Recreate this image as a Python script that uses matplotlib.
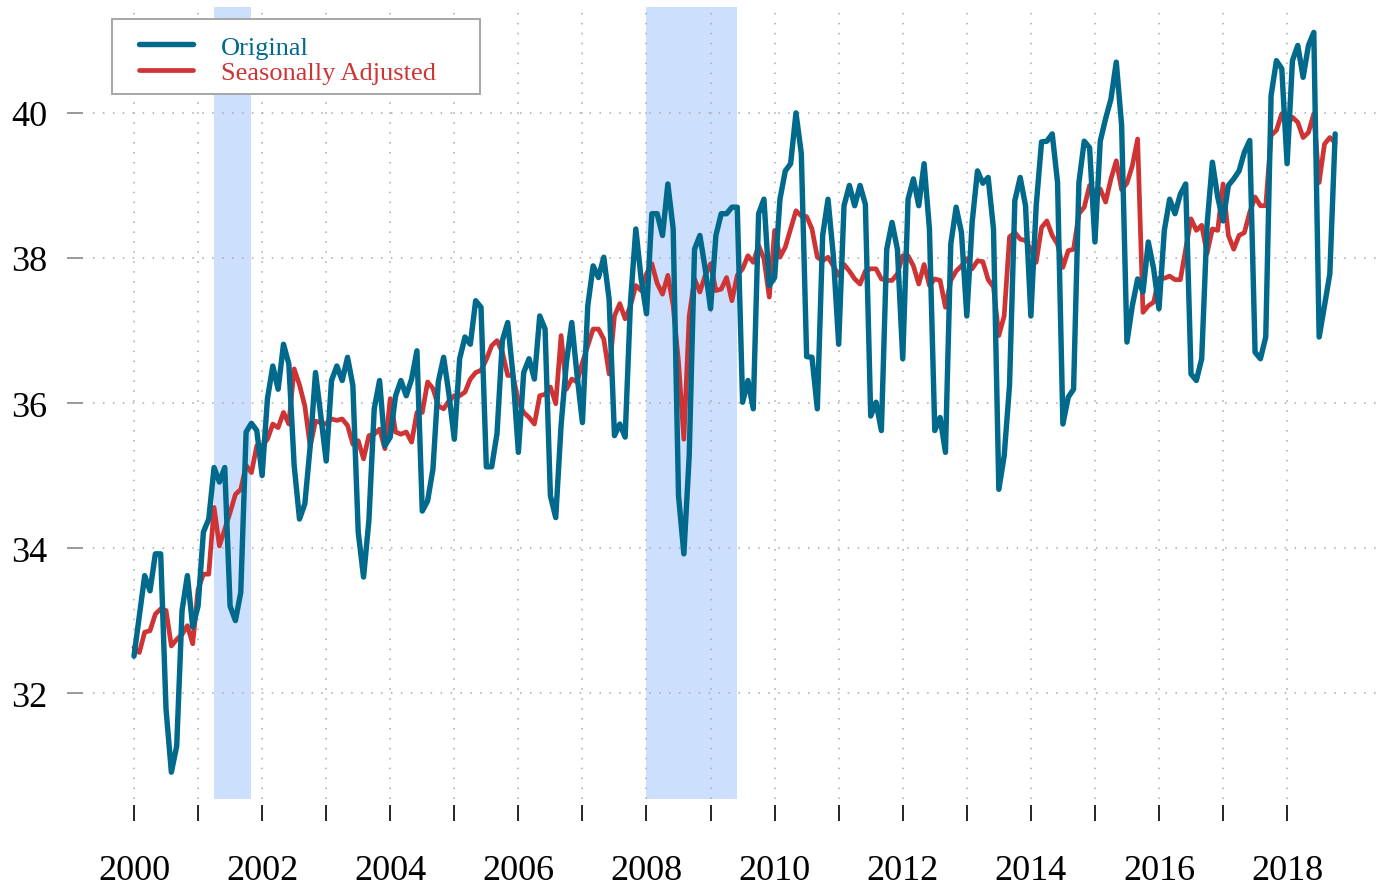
import numpy as np
import matplotlib
matplotlib.use("Agg")
import matplotlib.pyplot as plt
from matplotlib.patches import Rectangle

plt.rcParams['font.family'] = ['Liberation Serif', 'DejaVu Serif']

# monthly series, Jan 2000 onwards
original = [
    32.51, 33.07, 33.62, 33.41, 33.92, 33.92, 31.78, 30.91, 31.27, 33.14, 33.62, 32.91,
    33.20, 34.22, 34.40, 35.11, 34.91, 35.11, 33.20, 33.00, 33.39, 35.60, 35.72, 35.62,
    35.00, 36.06, 36.51, 36.19, 36.81, 36.54, 35.14, 34.40, 34.61, 35.40, 36.42, 35.82,
    35.20, 36.31, 36.51, 36.31, 36.63, 36.24, 34.22, 33.60, 34.38, 35.92, 36.31, 35.41,
    35.53, 36.10, 36.31, 36.10, 36.33, 36.72, 34.51, 34.65, 35.09, 36.29, 36.63, 36.12,
    35.50, 36.61, 36.91, 36.81, 37.41, 37.32, 35.12, 35.12, 35.58, 36.86, 37.11, 36.38,
    35.32, 36.42, 36.61, 36.33, 37.20, 37.02, 34.72, 34.42, 35.69, 36.56, 37.11, 36.38,
    35.73, 37.34, 37.89, 37.73, 38.01, 37.43, 35.55, 35.71, 35.53, 37.39, 38.40, 37.71,
    37.23, 38.61, 38.61, 38.31, 39.02, 38.40, 34.72, 33.92, 35.27, 38.12, 38.31, 37.85,
    37.30, 38.31, 38.61, 38.61, 38.70, 38.70, 36.01, 36.31, 35.92, 38.61, 38.81, 37.62,
    37.73, 38.81, 39.20, 39.30, 40.00, 39.44, 36.64, 36.63, 35.92, 38.31, 38.81, 38.03,
    36.81, 38.72, 39.00, 38.72, 39.00, 38.74, 35.82, 36.01, 35.62, 38.12, 38.49, 38.12,
    36.61, 38.81, 39.09, 38.72, 39.30, 38.40, 35.62, 35.80, 35.32, 38.19, 38.70, 38.35,
    37.20, 38.49, 39.20, 39.03, 39.11, 38.40, 34.81, 35.27, 36.24, 38.79, 39.11, 38.72,
    37.20, 38.72, 39.60, 39.61, 39.71, 39.04, 35.71, 36.08, 36.19, 39.04, 39.61, 39.52,
    38.22, 39.61, 39.92, 40.19, 40.70, 39.83, 36.84, 37.34, 37.71, 37.53, 38.22, 37.85,
    37.30, 38.38, 38.81, 38.61, 38.88, 39.02, 36.40, 36.31, 36.61, 38.45, 39.32, 38.84,
    38.51, 39.00, 39.09, 39.20, 39.46, 39.62, 36.70, 36.61, 36.91, 40.24, 40.72, 40.61,
    39.30, 40.72, 40.93, 40.49, 40.93, 41.11, 36.91, 37.34, 37.78, 39.71,
]
adjusted = [
    32.63, 32.56, 32.84, 32.86, 33.09, 33.16, 33.14, 32.65, 32.74, 32.81, 32.93, 32.68,
    33.43, 33.64, 33.64, 34.56, 34.03, 34.26, 34.49, 34.74, 34.81, 35.14, 35.04, 35.41,
    35.41, 35.50, 35.71, 35.66, 35.87, 35.71, 36.47, 36.25, 35.96, 35.40, 35.75, 35.73,
    35.71, 35.78, 35.76, 35.78, 35.69, 35.43, 35.48, 35.23, 35.55, 35.57, 35.64, 35.37,
    36.06, 35.60, 35.57, 35.60, 35.46, 35.87, 35.87, 36.29, 36.20, 35.96, 35.92, 36.03,
    36.10, 36.10, 36.15, 36.33, 36.42, 36.45, 36.60, 36.79, 36.86, 36.70, 36.38, 36.38,
    36.01, 35.87, 35.80, 35.71, 36.10, 36.12, 36.22, 35.99, 36.93, 36.19, 36.33, 36.29,
    36.56, 36.79, 37.02, 37.02, 36.88, 36.40, 37.20, 37.37, 37.16, 37.34, 37.62, 37.55,
    37.78, 37.92, 37.65, 37.50, 37.76, 37.34, 36.56, 35.50, 37.20, 37.71, 37.53, 37.76,
    37.92, 37.55, 37.57, 37.73, 37.41, 37.76, 37.85, 38.03, 37.94, 38.17, 37.99, 37.46,
    38.38, 38.01, 38.15, 38.40, 38.65, 38.58, 38.57, 38.40, 38.01, 37.96, 38.01, 37.89,
    37.76, 37.91, 37.82, 37.71, 37.64, 37.82, 37.85, 37.85, 37.71, 37.69, 37.69, 37.78,
    38.03, 38.03, 37.89, 37.64, 37.91, 37.62, 37.71, 37.69, 37.32, 37.69, 37.82, 37.89,
    37.99, 37.85, 37.96, 37.95, 37.70, 37.60, 36.93, 37.20, 38.29, 38.35, 38.26, 38.24,
    38.12, 37.94, 38.42, 38.51, 38.31, 38.19, 37.87, 38.10, 38.12, 38.61, 38.70, 39.00,
    38.90, 38.95, 38.77, 39.09, 39.34, 38.94, 39.03, 39.27, 39.64, 37.25, 37.34, 37.39,
    37.72, 37.72, 37.75, 37.70, 37.70, 38.12, 38.54, 38.38, 38.45, 38.06, 38.40, 38.38,
    39.02, 38.31, 38.12, 38.31, 38.35, 38.63, 38.84, 38.72, 38.72, 39.69, 39.76, 39.99,
    39.83, 39.94, 39.87, 39.66, 39.73, 39.99, 39.04, 39.57, 39.66, 39.59,
]
start_year = 2000

# recession periods (decimal years)
recessions = [(2001.25, 2001.83), (2008.0, 2009.42)]

x_ticks = list(range(2000, 2019))
x_labels = [str(y) if y % 2 == 0 else '' for y in x_ticks]
y_ticks = [32, 34, 36, 38, 40]

BLUE = '#00698c'
RED = '#cf3434'
SHADE = '#cce0fe'

t = start_year + np.arange(len(original)) / 12.0

fig = plt.figure(figsize=(13.84, 8.87), dpi=100)
ax = fig.add_axes([93 / 1384, 87 / 887, 1287 / 1384, 792 / 887])

for a, b in recessions:
    ax.axvspan(a, b, color=SHADE, lw=0, zorder=0)

ax.plot(t, adjusted, color=RED, lw=3.4, solid_joinstyle='round',
        solid_capstyle='round', label='Seasonally Adjusted', zorder=3)
ax.plot(t, original, color=BLUE, lw=3.9, solid_joinstyle='round',
        solid_capstyle='round', label='Original', zorder=4)

ax.set_xlim(1999.36, 2019.45)
ax.set_ylim(30.54, 41.46)

ax.set_xticks(x_ticks)
ax.set_xticklabels(x_labels)
ax.set_yticks(y_ticks)
ax.set_yticklabels([str(v) for v in y_ticks])

for s in ax.spines.values():
    s.set_visible(False)
ax.spines['bottom'].set_position(('outward', 4.3))
ax.spines['left'].set_position(('outward', 7.2))

ax.tick_params(axis='x', direction='out', length=11.5, width=1.2,
               color='black', labelsize=26, pad=24)
ax.tick_params(axis='y', direction='out', length=11.5, width=1.4,
               color='#999999', labelcolor='black', labelsize=26, pad=14)

ax.grid(True, which='major', linestyle=(0, (1, 5.5)), color='#a8a8a8', lw=1.1)
ax.set_axisbelow(True)

# legend box
ax.add_patch(Rectangle((0.01476, 0.8902), 0.2859, 0.0947, transform=ax.transAxes,
                       facecolor='white', edgecolor='#a6a6a6', lw=1.4,
                       zorder=5, clip_on=False))
handles, labels = ax.get_legend_handles_labels()
leg = ax.legend(handles[::-1], labels[::-1], loc='upper left',
                bbox_to_anchor=(0.0357, 0.9646), frameon=False, fontsize=19,
                borderpad=0, borderaxespad=0, handlelength=2.05,
                handletextpad=1.06, labelspacing=0.07)
leg.set_zorder(6)
for text, line in zip(leg.get_texts(), leg.get_lines()):
    text.set_color(line.get_color())

fig.savefig('out.png', dpi=100)
